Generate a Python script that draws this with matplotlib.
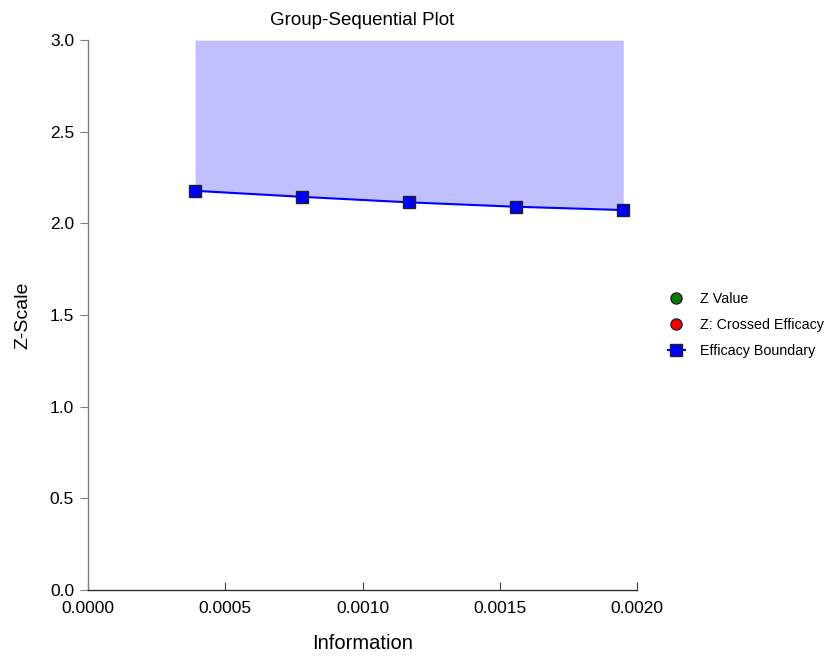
import matplotlib
matplotlib.use('Agg')
import matplotlib.pyplot as plt
from matplotlib.lines import Line2D

plt.rcParams['font.family'] = ['Liberation Sans', 'DejaVu Sans']

# Data
information = [0.00039, 0.00078, 0.00117, 0.00156, 0.00195]
efficacy_boundary = [2.178, 2.145, 2.115, 2.091, 2.073]
x_ticks = [0.0, 0.0005, 0.0010, 0.0015, 0.0020]
y_ticks = [0.0, 0.5, 1.0, 1.5, 2.0, 2.5, 3.0]

fig = plt.figure(figsize=(8.3, 6.58), dpi=100)
ax = fig.add_axes([0.106, 0.1033, 0.6615, 0.8357])

# shaded efficacy region above the boundary
ax.fill_between(information, efficacy_boundary, 3.0, color='#c0c0ff', linewidth=0)
ax.plot(information, efficacy_boundary, color='#0000ff', linewidth=1.5,
        marker='s', markersize=8, markerfacecolor='#0000ff', markeredgecolor='#222222',
        markeredgewidth=1.0, clip_on=False, zorder=3)

ax.set_xlim(0, 0.0020)
ax.set_ylim(0, 3.0)
ax.set_xticks(x_ticks)
ax.set_xticklabels(['%.4f' % v for v in x_ticks])
ax.set_yticks(y_ticks)
ax.set_yticklabels(['%.1f' % v for v in y_ticks])

for side in ['top', 'right']:
    ax.spines[side].set_visible(False)
for side in ['left', 'bottom']:
    ax.spines[side].set_color('#808080')
    ax.spines[side].set_linewidth(1.0)
ax.spines['bottom'].set_color('#303030')

ax.tick_params(axis='x', direction='in', length=6, color='#404040', labelsize=12.5, pad=8)
ax.tick_params(axis='y', direction='out', length=6, color='#808080', labelsize=12.5, pad=4)

ax.set_xlabel('Information', fontsize=14.5, labelpad=13)
ax.set_ylabel('Z-Scale', fontsize=14, labelpad=13)
ax.set_title('Group-Sequential Plot', fontsize=13.5, pad=11)

handles = [
    Line2D([], [], linestyle='none', marker='o', markersize=8, markerfacecolor='#008000',
           markeredgecolor='#222222'),
    Line2D([], [], linestyle='none', marker='o', markersize=8, markerfacecolor='#ff0000',
           markeredgecolor='#222222'),
    Line2D([], [], color='#0000ff', linewidth=1.5, marker='s', markersize=8,
           markerfacecolor='#0000ff', markeredgecolor='#222222'),
]
labels = ['Z Value', 'Z: Crossed Efficacy', 'Efficacy Boundary']
fig.legend(handles, labels, loc='center left', bbox_to_anchor=(0.789, 0.506),
           frameon=False, fontsize=10.3, handlelength=1.2, labelspacing=0.82,
           handletextpad=1.05)

plt.savefig('out.png', dpi=100)
plt.close()
